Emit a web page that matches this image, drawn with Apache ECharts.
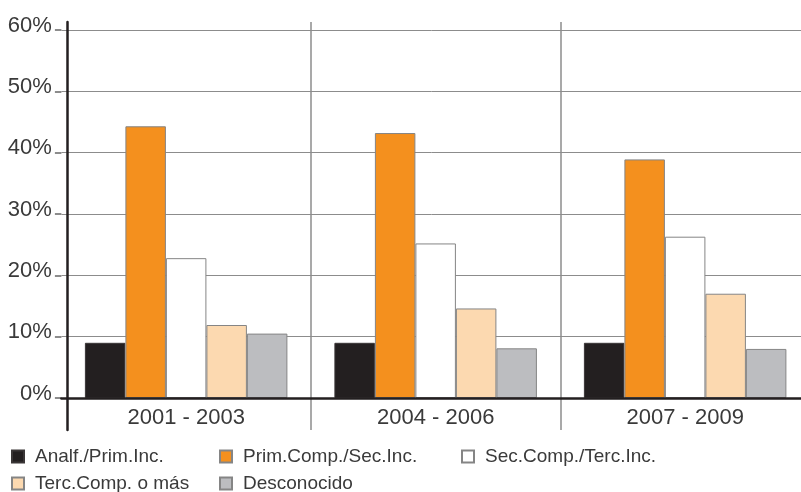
<!DOCTYPE html>
<html>
<head>
<meta charset="utf-8">
<script src="https://cdn.jsdelivr.net/npm/echarts@6/dist/echarts.min.js"></script>
<style>
html,body{margin:0;padding:0;background:#fff;}
#chart{width:801px;height:492px;}
</style>
</head>
<body>
<div id="chart"></div>
<script>
const categories = ['2001 - 2003', '2004 - 2006', '2007 - 2009'];
const seriesNames = ['Analf./Prim.Inc.', 'Prim.Comp./Sec.Inc.', 'Sec.Comp./Terc.Inc.', 'Terc.Comp. o más', 'Desconocido'];
const analfPrimInc = [9.0, 9.0, 9.0];
const primCompSecInc = [44.3, 43.2, 38.9];
const secCompTercInc = [22.8, 25.2, 26.3];
const tercCompOMas = [11.9, 14.6, 17.0];
const desconocido = [10.5, 8.1, 8.0];
const yTickMin = 0, yTickMax = 60, yTickStep = 10;

const seriesValues = [analfPrimInc, primCompSecInc, secCompTercInc, tercCompOMas, desconocido];
const colors = ['#231f20', '#f4901e', '#ffffff', '#fcd9b0', '#bcbdc0'];
const FONT = "'Liberation Sans', Arial, sans-serif";
const TXT = '#3a3a3a';
const GRIDC = '#8c8c8c';

// legend placement (column x, row y) for each series
const legendLeft = [11, 219, 461, 11, 219];
const legendTop = [447, 447, 447, 474, 474];

const chart = echarts.init(document.getElementById('chart'), null, {renderer: 'canvas'});

const GL = 61.4, GR = -8.9;

const option = {
  backgroundColor: '#ffffff',
  animation: false,
  legend: seriesNames.map((name, i) => ({
    data: [name], left: legendLeft[i], top: legendTop[i], padding: 0,
    itemWidth: 12, itemHeight: 12, icon: 'rect', selectedMode: false,
    textStyle: {fontFamily: FONT, fontSize: 19, color: TXT, lineHeight: 18, padding: [0, 0, 0, 6]}
  })),
  grid: [
    {left: GL, right: GR, top: 30, bottom: 94, containLabel: false, outerBoundsMode: 'none'},
    {left: GL, right: GR, top: 22, bottom: 62, containLabel: false, outerBoundsMode: 'none'},
    {left: 67, right: 0, top: 22, bottom: 62, containLabel: false, outerBoundsMode: 'none'}
  ],
  xAxis: [
    {
      type: 'category', gridIndex: 0, data: categories,
      axisLine: {show: true, lineStyle: {color: '#231f20', width: 2.5}},
      axisTick: {show: false},
      axisLabel: {fontFamily: FONT, fontSize: 22, color: TXT, margin: 9},
      splitLine: {show: false}, z: 5
    },
    {
      type: 'category', gridIndex: 1, data: categories,
      axisLine: {show: false}, axisTick: {show: false}, axisLabel: {show: false},
      splitLine: {show: true, interval: function (idx) { return idx > 0; }, lineStyle: {color: GRIDC, width: 1.5}}
    },
    {
      type: 'value', gridIndex: 2, min: 0, max: 1, show: false
    }
  ],
  yAxis: [
    {
      type: 'value', gridIndex: 0, min: yTickMin, max: yTickMax, interval: yTickStep,
      axisLine: {show: false},
      axisTick: {show: true, length: 6.5, lineStyle: {color: GRIDC, width: 2}},
      axisLabel: {formatter: '{value}%', fontFamily: FONT, fontSize: 22, color: TXT, margin: 9.5, verticalAlign: 'bottom', lineHeight: 9},
      splitLine: {show: true, lineStyle: {color: GRIDC, width: 1}}
    },
    {
      type: 'value', gridIndex: 1, min: 0, max: 1, show: false
    },
    {
      type: 'value', gridIndex: 2, min: 0, max: 1,
      axisLine: {show: true, onZero: false, lineStyle: {color: '#231f20', width: 2.5}},
      axisTick: {show: false}, axisLabel: {show: false}, splitLine: {show: false}, z: 6
    }
  ],
  series: seriesNames.map((name, i) => ({
    name: name,
    type: 'bar',
    xAxisIndex: 0, yAxisIndex: 0,
    data: seriesValues[i],
    barWidth: 40.5,
    barGap: '0%',
    itemStyle: {color: colors[i], borderColor: i === 0 ? '#3a3637' : '#858585', borderWidth: 1},
    emphasis: {disabled: true}
  }))
};
chart.setOption(option);
</script>
</body>
</html>
